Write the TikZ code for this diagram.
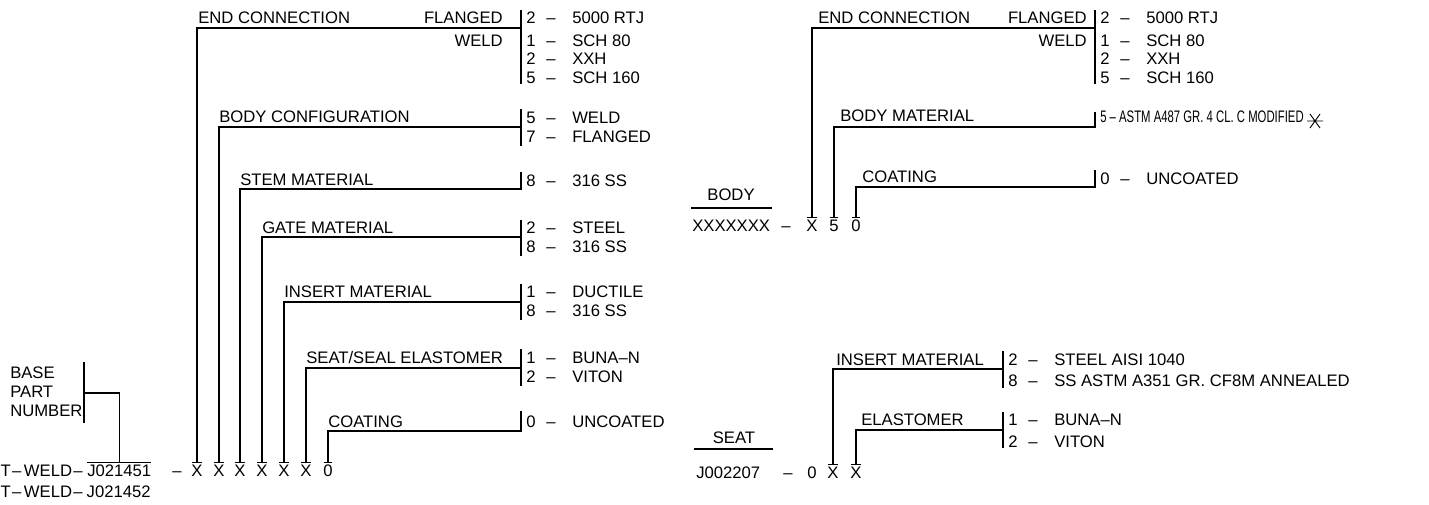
\documentclass[tikz,border=0pt]{standalone}
\usepackage{fontspec}
\usepackage{graphicx}
\setmainfont{Liberation Sans}
\usetikzlibrary{calc}
\newcommand\optx[2]{\makebox[15pt][l]{#1}\makebox[19.5pt][l]{–}#2}
\newcommand\prefx{T\kern1pt–\kern2pt WELD\kern1pt–\kern3pt}
\begin{document}
\begin{tikzpicture}[x=0.75pt,y=-0.75pt,
  every node/.style={inner sep=0pt,font=\fontsize{12.5pt}{15pt}\selectfont},
  lbl/.style={anchor=base west},
  lblr/.style={anchor=base east},
  ch/.style={anchor=base,inner xsep=-0.6pt,inner ysep=1.1pt},
  ov/.style={anchor=base west,inner ysep=1.1pt},
  ln/.style={line width=0.8pt}]
\useasboundingbox (0,0) rectangle (1429,504);

% ---------------- left: base part number ----------------
\node[lbl] (base) at (10,378) {BASE};
\node[lbl] (part) at (10,397) {PART};
\node[lbl] (numb) at (10,416) {NUMBER};
\coordinate (bpt) at (84,362);
\coordinate (bpb) at (84,423);
\coordinate (bpm) at (84,393);
\draw[ln] (bpt) -- (bpb);

\node[ov] (pn) at (87,476) {J021451};
\node[lblr] (pre) at (pn.base west) {\prefx};
\node[lbl] (row2) at ($(pre.base west)+(0,21)$) {\prefx J021452};
\draw[ln] (pn.north west) -- (pn.north east);
\draw[ln] (bpm) -| (pn.north);

\node[ch] (d1) at (177,476) {–};
\node[ch] (x1) at (197,476) {X};
\node[ch] (x2) at (219,476) {X};
\node[ch] (x3) at (240,476) {X};
\node[ch] (x4) at (262,476) {X};
\node[ch] (x5) at (284,476) {X};
\node[ch] (x6) at (306,476) {X};
\node[ch] (x7) at (328,476) {0};
\foreach \n in {x1,x2,x3,x4,x5,x6,x7}
  \draw[ln] (\n.north west) -- (\n.north east);

% END CONNECTION
\node[lbl] at (198,23) {END CONNECTION};
\node[lblr] at (503,23) {FLANGED};
\node[lblr] at (503,46) {WELD};
\draw[ln] (521,10) -- (521,84);
\coordinate (b1) at (521,28);
\node[lbl] at (526,23) {\optx{2}{5000 RTJ}};
\node[lbl] at (526,46) {\optx{1}{SCH 80}};
\node[lbl] at (526,64.5) {\optx{2}{XXH}};
\node[lbl] at (526,83) {\optx{5}{SCH 160}};
\draw[ln] (b1) -| (x1.north);

% BODY CONFIGURATION
\node[lbl] at (219,122) {BODY CONFIGURATION};
\draw[ln] (521,109) -- (521,146);
\coordinate (b2) at (521,127);
\node[lbl] at (526,123) {\optx{5}{WELD}};
\node[lbl] at (526,142) {\optx{7}{FLANGED}};
\draw[ln] (b2) -| (x2.north);

% STEM MATERIAL
\node[lbl] at (240,185) {STEM MATERIAL};
\draw[ln] (521,172) -- (521,190);
\coordinate (b3) at (521,189);
\node[lbl] at (526,186) {\optx{8}{316 SS}};
\draw[ln] (b3) -| (x3.north);

% GATE MATERIAL
\node[lbl] at (262,233) {GATE MATERIAL};
\draw[ln] (521,220) -- (521,256);
\coordinate (b4) at (521,237);
\node[lbl] at (526,233) {\optx{2}{STEEL}};
\node[lbl] at (526,252) {\optx{8}{316 SS}};
\draw[ln] (b4) -| (x4.north);

% INSERT MATERIAL
\node[lbl] at (284,297) {INSERT MATERIAL};
\draw[ln] (521,284) -- (521,320);
\coordinate (b5) at (521,302);
\node[lbl] at (526,297) {\optx{1}{DUCTILE}};
\node[lbl] at (526,316) {\optx{8}{316 SS}};
\draw[ln] (b5) -| (x5.north);

% SEAT/SEAL ELASTOMER
\node[lbl] at (306,363) {SEAT/SEAL ELASTOMER};
\draw[ln] (521,349) -- (521,386);
\coordinate (b6) at (521,368);
\node[lbl] at (526,363) {\optx{1}{BUNA–N}};
\node[lbl] at (526,382) {\optx{2}{VITON}};
\draw[ln] (b6) -| (x6.north);

% COATING
\node[lbl] at (328,427) {COATING};
\draw[ln] (521,411) -- (521,432);
\coordinate (b7) at (521,431);
\node[lbl] at (526,427) {\optx{0}{UNCOATED}};
\draw[ln] (b7) -| (x7.north);

% ---------------- body ----------------
\node[anchor=base] (bodyt) at (731,200) {BODY};
\draw[ln] (691,208) -- (772,208);
\node[lbl] (bxs) at (692,231) {XXXXXXX};
\node[ch] (bd) at (786,231) {–};
\node[ch] (bx) at (812,231) {X};
\node[ch] (b5c) at (834,231) {5};
\node[ch] (b0) at (856,231) {0};
\foreach \n in {bx,b5c,b0}
  \draw[ln] (\n.north west) -- (\n.north east);

\node[lbl] at (818,23) {END CONNECTION};
\node[lblr] at (1087,23) {FLANGED};
\node[lblr] at (1087,46) {WELD};
\draw[ln] (1095,10) -- (1095,84);
\coordinate (c1) at (1095,28);
\node[lbl] at (1100,23) {\optx{2}{5000 RTJ}};
\node[lbl] at (1100,46) {\optx{1}{SCH 80}};
\node[lbl] at (1100,64.5) {\optx{2}{XXH}};
\node[lbl] at (1100,83) {\optx{5}{SCH 160}};
\draw[ln] (c1) -| (bx.north);

\node[lbl] at (840,121) {BODY MATERIAL};
\draw[ln] (1095,112) -- (1095,128);
\coordinate (c2) at (1095,127);
\node[lbl] (astm) at (1100,122) {\scalebox{0.68}[1]{5 – ASTM A487 GR. 4 CL. C MODIFIED}};
\draw[line width=0.7pt] (1307,121) -- (1323,121) (1310,114) -- (1320,128) (1310,128) -- (1320,114);
\draw[ln] (c2) -| (b5c.north);

\node[lbl] at (862,182) {COATING};
\draw[ln] (1095,170) -- (1095,188);
\coordinate (c3) at (1095,187);
\node[lbl] at (1100,184) {\optx{0}{UNCOATED}};
\draw[ln] (c3) -| (b0.north);

% ---------------- seat ----------------
\node[anchor=base] (seatt) at (734,443) {SEAT};
\draw[ln] (694,449) -- (773,449);
\node[lbl] (sj) at (696,478) {J002207};
\node[ch] (sd) at (788,478) {–};
\node[ch] (s0) at (812,478) {0};
\node[ch] (sx1) at (833,478) {X};
\node[ch] (sx2) at (856,478) {X};
\foreach \n in {sx1,sx2}
  \draw[ln] (\n.north west) -- (\n.north east);

\node[lbl] at (836,365) {INSERT MATERIAL};
\draw[ln] (1003,351) -- (1003,388);
\coordinate (s1) at (1003,369);
\node[lbl] at (1008,365) {\optx{2}{STEEL AISI 1040}};
\node[lbl] at (1008,386) {\optx{8}{SS ASTM A351 GR. CF8M ANNEALED}};
\draw[ln] (s1) -| (sx1.north);

\node[lbl] at (861,425) {ELASTOMER};
\draw[ln] (1003,412) -- (1003,448);
\coordinate (s2) at (1003,430);
\node[lbl] at (1008,425) {\optx{1}{BUNA–N}};
\node[lbl] at (1008,447) {\optx{2}{VITON}};
\draw[ln] (s2) -| (sx2.north);
\end{tikzpicture}
\end{document}
